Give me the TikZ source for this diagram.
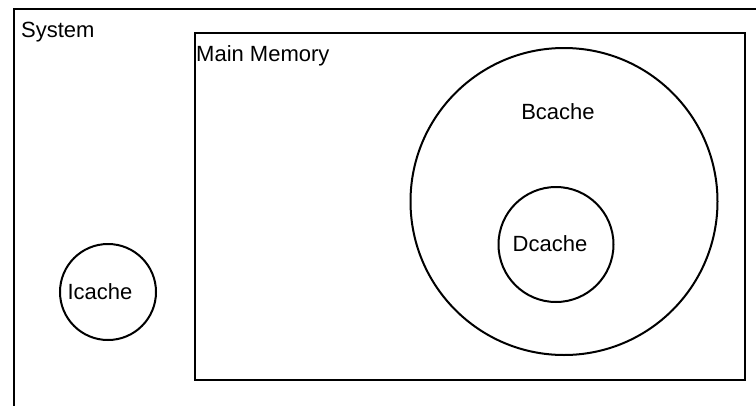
\documentclass[tikz,border=0pt]{standalone}
\usepackage{fontspec}
\setmainfont{Liberation Sans}
\begin{document}
\begin{tikzpicture}[x=1pt,y=-1pt,
  every node/.style={font=\fontsize{22}{25}\selectfont},
  box/.style={draw=black, line width=2pt, rectangle, inner sep=0pt, anchor=north west},
  circ/.style={draw=black, line width=2pt, circle, inner sep=0pt},
  lbl/.style={inner sep=0pt}]
\useasboundingbox (0,0) rectangle (756,405);
\clip (0,0) rectangle (756,405);
\fill[white] (0,0) rectangle (756,405);
% outer system box
\node[box, minimum width=760, minimum height=410] (system) at (13,8) {};
\node[lbl, anchor=west] (systemlabel) at (21,32) {System};
% main memory
\node[box, minimum width=550, minimum height=347] (mem) at (194,32) {};
\node[lbl, anchor=west] (memlabel) at (196,56) {Main Memory};
% caches
\node[circ, minimum size=96] (icache) at (108,292) {};
\node[lbl] (icachelabel) at (100,292) {Icache};
\node[circ, minimum size=307] (bcache) at (564,201.5) {};
\node[lbl] (bcachelabel) at (558,112) {Bcache};
\node[circ, minimum size=115] (dcache) at (556,244.5) {};
\node[lbl] (dcachelabel) at (550,244) {Dcache};
\end{tikzpicture}
\end{document}
